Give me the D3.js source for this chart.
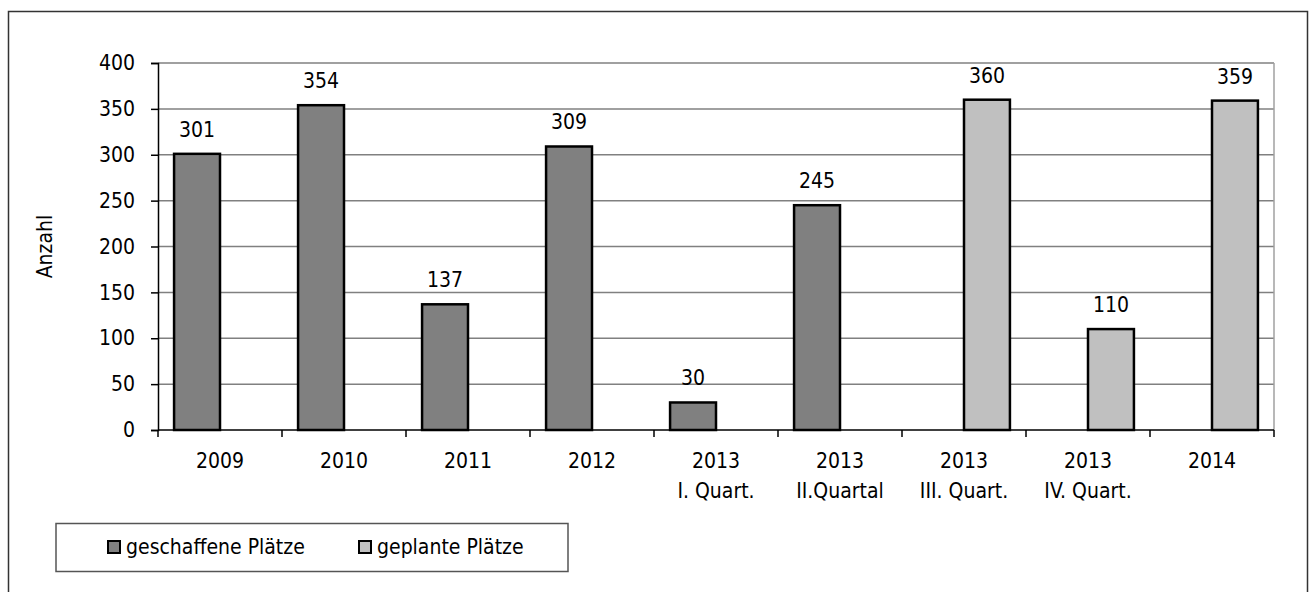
<!DOCTYPE html>
<html>
<head>
<meta charset="utf-8">
<script src="https://cdn.jsdelivr.net/npm/d3@7"></script>
<style>
  body { margin: 0; background: #fff; }
  svg text { font-family: "DejaVu Sans Condensed", "DejaVu Sans", sans-serif; font-size: 21px; fill: #000; }
</style>
</head>
<body>
<div id="vis"></div>
<script>
// data
const categories = ["2009", "2010", "2011", "2012", "2013\nI. Quart.", "2013\nII.Quartal", "2013\nIII. Quart.", "2013\nIV. Quart.", "2014"];
const geschaffene = [301, 354, 137, 309, 30, 245, null, null, null];
const geplante = [null, null, null, null, null, null, 360, 110, 359];
const seriesNames = ["geschaffene Plätze", "geplante Plätze"];
const yTicks = [0, 50, 100, 150, 200, 250, 300, 350, 400];

const width = 1311;
const height = 592;
const plot = { left: 158, right: 1274, top: 63, bottom: 430 };

const svg = d3.select("#vis")
    .append("svg")
    .attr("width", width)
    .attr("height", height);

// outer frame
svg.append("rect")
    .attr("x", 8.5).attr("y", 11.5)
    .attr("width", 1299).attr("height", 600)
    .attr("fill", "none")
    .attr("stroke", "#333")
    .attr("stroke-width", 1.5);

const x = d3.scaleBand()
    .domain(categories)
    .range([plot.left, plot.right]);

const xInner = d3.scaleBand()
    .domain(seriesNames)
    .range([0, x.bandwidth()])
    .paddingOuter(0.35);

const y = d3.scaleLinear()
    .domain([0, 400])
    .range([plot.bottom, plot.top]);

const colors = { "geschaffene Plätze": "#808080", "geplante Plätze": "#c0c0c0" };

// gridlines
svg.append("g")
    .selectAll("line")
    .data(yTicks.filter(d => d > 0))
    .join("line")
    .attr("x1", plot.left).attr("x2", plot.right)
    .attr("y1", d => y(d)).attr("y2", d => y(d))
    .attr("stroke", "#808080")
    .attr("stroke-width", 1.5);

// right border of plot
svg.append("line")
    .attr("x1", plot.right).attr("x2", plot.right)
    .attr("y1", plot.top).attr("y2", plot.bottom)
    .attr("stroke", "#a0a0a0")
    .attr("stroke-width", 1.5);

// bars
const rows = [];
categories.forEach((c, i) => {
    if (geschaffene[i] != null) rows.push({ cat: c, key: seriesNames[0], value: geschaffene[i] });
    if (geplante[i] != null) rows.push({ cat: c, key: seriesNames[1], value: geplante[i] });
});

svg.append("g")
    .selectAll("rect")
    .data(rows)
    .join("rect")
    .attr("x", d => x(d.cat) + xInner(d.key))
    .attr("y", d => y(d.value))
    .attr("width", xInner.bandwidth())
    .attr("height", d => y(0) - y(d.value))
    .attr("fill", d => colors[d.key])
    .attr("stroke", "#000")
    .attr("stroke-width", 2.5);

// value labels
svg.append("g")
    .selectAll("text")
    .data(rows)
    .join("text")
    .attr("x", d => x(d.cat) + xInner(d.key) + xInner.bandwidth() / 2)
    .attr("y", d => y(d.value) - 17)
    .attr("text-anchor", "middle")
    .text(d => d.value);

// y axis
const yAxis = d3.axisLeft(y)
    .tickValues(yTicks)
    .tickSize(7)
    .tickPadding(16);

svg.append("g")
    .attr("transform", `translate(${plot.left},0)`)
    .call(yAxis)
    .call(g => g.select(".domain").attr("stroke", "#000").attr("stroke-width", 1.5))
    .call(g => g.selectAll(".tick line").attr("stroke", "#000").attr("stroke-width", 1.5))
    .call(g => g.selectAll("text").attr("font-family", null).attr("font-size", null));

// x axis: ticks at category boundaries
svg.append("line")
    .attr("x1", plot.left).attr("x2", plot.right)
    .attr("y1", plot.bottom).attr("y2", plot.bottom)
    .attr("stroke", "#000")
    .attr("stroke-width", 1.5);

const boundaries = categories.map(c => x(c)).concat([plot.right]);
svg.append("g")
    .selectAll("line")
    .data(boundaries)
    .join("line")
    .attr("x1", d => d).attr("x2", d => d)
    .attr("y1", plot.bottom).attr("y2", plot.bottom + 7)
    .attr("stroke", "#000")
    .attr("stroke-width", 1.5);

svg.append("g")
    .selectAll("text")
    .data(categories)
    .join("text")
    .attr("x", d => x(d) + x.bandwidth() / 2)
    .attr("y", 468)
    .attr("text-anchor", "middle")
    .selectAll("tspan")
    .data(d => d.split("\n"))
    .join("tspan")
    .attr("x", function () { return this.parentNode.getAttribute("x"); })
    .attr("dy", (d, i) => i === 0 ? 0 : 30)
    .text(d => d);

// y label
svg.append("text")
    .attr("transform", `translate(52,${(plot.top + plot.bottom) / 2}) rotate(-90)`)
    .attr("text-anchor", "middle")
    .text("Anzahl");

// legend
const legend = svg.append("g");
legend.append("rect")
    .attr("x", 56).attr("y", 523.5)
    .attr("width", 512).attr("height", 48)
    .attr("fill", "#fff")
    .attr("stroke", "#555")
    .attr("stroke-width", 1.5);

const legendX = [108, 359];
const items = legend.selectAll("g.item")
    .data(seriesNames)
    .join("g")
    .attr("class", "item")
    .attr("transform", (d, i) => `translate(${legendX[i]},541)`);

items.append("rect")
    .attr("width", 12).attr("height", 12)
    .attr("fill", d => colors[d])
    .attr("stroke", "#000")
    .attr("stroke-width", 2);

items.append("text")
    .attr("x", 18)
    .attr("y", 13)
    .text(d => d);
</script>
</body>
</html>
